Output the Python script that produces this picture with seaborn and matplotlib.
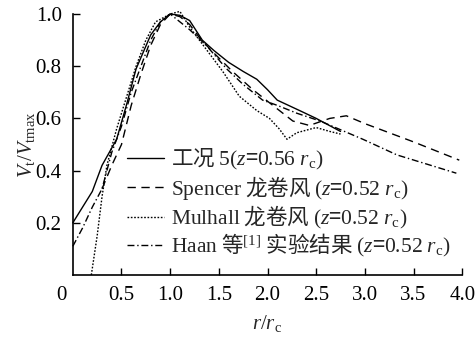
import matplotlib
matplotlib.use('Agg')
import matplotlib.pyplot as plt
import matplotlib.transforms as mtransforms
from matplotlib.font_manager import FontProperties
import seaborn as sns

# data (r/rc , Vt/Vtmax)
case5_r = [0.0, 0.2, 0.3, 0.45, 0.55, 0.65, 0.8, 0.9, 1.0, 1.1, 1.2, 1.33, 1.45, 1.6, 1.75, 1.89, 2.0, 2.1, 2.33, 2.5, 2.75]
case5_v = [0.2, 0.32, 0.42, 0.52, 0.65, 0.79, 0.92, 0.97, 1.0, 0.995, 0.975, 0.90, 0.86, 0.815, 0.78, 0.75, 0.71, 0.67, 0.63, 0.60, 0.55]

spencer_r = [0.3, 0.4, 0.5, 0.6, 0.7, 0.8, 0.9, 1.0, 1.1, 1.2, 1.3, 1.41, 1.64, 1.85, 2.02, 2.26, 2.43, 2.64, 2.81, 3.0, 3.5, 3.97]
spencer_v = [0.33, 0.42, 0.5, 0.65, 0.77, 0.88, 0.96, 1.0, 0.99, 0.96, 0.91, 0.865, 0.78, 0.71, 0.66, 0.59, 0.573, 0.60, 0.61, 0.58, 0.51, 0.44]

mulhall_r = [0.19, 0.25, 0.3, 0.35, 0.45, 0.55, 0.65, 0.75, 0.85, 1.0, 1.1, 1.2, 1.3, 1.54, 1.71, 1.89, 2.02, 2.12, 2.2, 2.3, 2.5, 2.64, 2.75]
mulhall_v = [0.0, 0.15, 0.3, 0.42, 0.56, 0.68, 0.8, 0.9, 0.97, 1.0, 1.01, 0.95, 0.90, 0.78, 0.685, 0.63, 0.60, 0.56, 0.52, 0.545, 0.565, 0.55, 0.54]

haan_r = [0.0, 0.1, 0.2, 0.3, 0.4, 0.5, 0.6, 0.7, 0.8, 0.9, 1.0, 1.1, 1.2, 1.37, 1.58, 1.75, 1.95, 2.1, 2.3, 2.54, 2.98, 3.33, 3.94]
haan_v = [0.11, 0.18, 0.26, 0.33, 0.47, 0.57, 0.7, 0.8, 0.9, 0.97, 1.0, 0.97, 0.94, 0.88, 0.79, 0.73, 0.67, 0.65, 0.62, 0.59, 0.52, 0.46, 0.39]

# CJK text in the legend falls outside mathtext; latin parts go through math mode
labels = ['工况 $5(z$=$0.56\\ r_{\\rm c})$',
          '$\\mathrm{Spencer}$ 龙卷风 $(z$=$0.52\\ r_{\\rm c})$',
          '$\\mathrm{Mulhall}$ 龙卷风 $(z$=$0.52\\ r_{\\rm c})$',
          '$\\mathrm{Haan}$ 等$^{[1]}$ 实验结果 $(z$=$0.52\\ r_{\\rm c})$']

xticks = [0, 0.5, 1.0, 1.5, 2.0, 2.5, 3.0, 3.5, 4.0]
yticks = [0.2, 0.4, 0.6, 0.8, 1.0]

sns.set_style('ticks')
plt.rcParams['font.family'] = ['Liberation Serif', 'Noto Sans CJK SC']
plt.rcParams['mathtext.fontset'] = 'custom'
plt.rcParams['mathtext.rm'] = 'Liberation Serif'
plt.rcParams['mathtext.it'] = 'Liberation Serif:italic'
plt.rcParams['font.size'] = 15

fig = plt.figure(figsize=(4.76, 3.42), dpi=100)
ax = fig.add_axes([0.153, 0.196, 0.818, 0.763])

styles = ['-', (0, (6, 4)), (0, (1.2, 1.2)), (0, (5, 2, 1, 2))]
series = [(case5_r, case5_v), (spencer_r, spencer_v), (mulhall_r, mulhall_v), (haan_r, haan_v)]
for (r, v), ls, lab in zip(series, styles, labels):
    sns.lineplot(x=r, y=v, ax=ax, color='black', linestyle=ls, linewidth=1.0,
                 label=lab, sort=False, clip_on=False)

ax.set_xlim(0, 4.0)
ax.set_ylim(0, 1.0)
ax.set_xticks(xticks)
ax.set_xticklabels(['0' if t == 0 else f'{t:.1f}' for t in xticks])
ax.set_yticks(yticks)
ax.set_yticklabels([f'{t:.1f}' for t in yticks])
ax.tick_params(direction='in', length=5, width=1, colors='black', labelsize=15, pad=8)
ax.xaxis.get_major_ticks()[0].tick1line.set_visible(False)
# shift the origin label to the left like the original
lbl0 = ax.get_xticklabels()[0]
lbl0.set_transform(lbl0.get_transform() + mtransforms.ScaledTranslation(-11 / 100, 0, fig.dpi_scale_trans))

for s in ['top', 'right']:
    ax.spines[s].set_visible(False)
for s in ['left', 'bottom']:
    ax.spines[s].set_color('black')
    ax.spines[s].set_linewidth(1.2)

ax.set_xlabel('$r/r_{\\rm c}$', fontsize=15, labelpad=6)
ax.set_ylabel('$V_{\\rm t}/V_{\\rm tmax}$', fontsize=15)
ax.yaxis.set_label_coords(-0.092, 0.5)

ax.legend(loc='upper left', bbox_to_anchor=(0.14, 0.49), frameon=False,
          prop=FontProperties(family='Noto Sans CJK SC', size=15.5),
          handlelength=1.7, handletextpad=0.35, labelspacing=0.08, borderpad=0, borderaxespad=0)

fig.savefig('out.png', dpi=100)
